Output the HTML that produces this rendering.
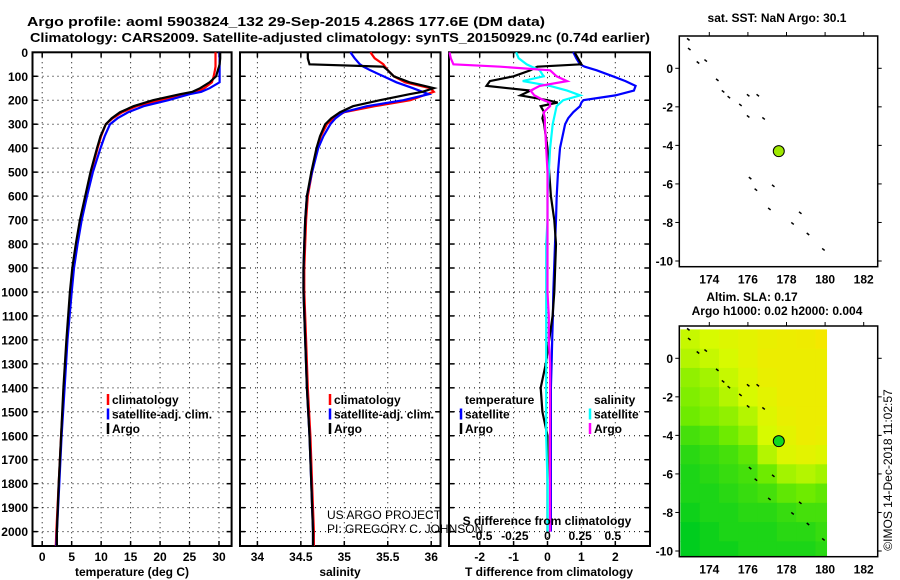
<!DOCTYPE html>
<html><head><meta charset="utf-8"><style>
html,body{margin:0;padding:0;background:#fff}
svg{display:block;font-family:"Liberation Sans",sans-serif}
.b{font-weight:bold;font-size:13px}
.t{font-weight:bold;font-size:12px}
</style></head><body>
<svg id="c" width="900" height="580" viewBox="0 0 900 580">
<text x="286" y="26" text-anchor="middle" class="b" font-size="14" textLength="518" lengthAdjust="spacingAndGlyphs">Argo profile: aoml 5903824_132 29-Sep-2015 4.286S 177.6E (DM data)</text>
<text x="340" y="42" text-anchor="middle" class="b" font-size="14" textLength="620" lengthAdjust="spacingAndGlyphs">Climatology: CARS2009. Satellite-adjusted climatology: synTS_20150929.nc (0.74d earlier)</text>
<g id="g"></g>
</svg>
<script>
// ---- data ----
const depths = [0,25,50,60,75,100,125,150,165,175,200,225,250,275,300,350,400,500,600,700,800,900,1000,1200,1400,1600,1800,2000,2060];
const climT = [29.4,29.4,29.4,29.4,29.3,29.1,28.8,27.5,26.2,24.5,20,16,13.6,12,10.8,10,9.4,8.3,7.4,6.5,5.8,5.2,4.8,4.2,3.7,3.2,2.8,2.4,2.3];
const satT = [30.1,30.1,30.1,30.1,30.1,30.1,30.1,28.4,27,25,21.4,17.2,14.6,12.8,11.5,10.6,9.9,8.6,7.6,6.7,6.0,5.4,5.0,4.3,3.8,3.3,2.9,2.5,2.4];
const argoT = [30.2,30.2,30.1,30,29.8,29.5,28.4,26.8,25.5,23.4,18.8,15.5,13.2,11.8,10.8,9.9,9.3,8.2,7.3,6.4,5.7,5.1,4.7,4.1,3.6,3.2,2.8,2.5,2.5];
const climS = [35.3,35.35,35.45,35.47,35.5,35.57,35.7,35.99,36.03,35.95,35.76,35.35,35.0,34.88,34.8,34.73,34.69,34.63,34.58,34.56,34.55,34.54,34.54,34.56,34.58,34.61,34.63,34.65,34.65];
const satS = [35.07,35.12,35.18,35.22,35.3,35.45,35.6,35.79,35.9,35.97,35.68,35.26,34.99,34.9,34.84,34.76,34.7,34.63,34.57,34.55,34.54,34.53,34.53,34.55,34.57,34.6,34.62,34.64,34.64];
const argoS = [34.58,34.58,34.6,35.45,35.5,35.57,35.75,36.03,35.9,35.75,35.41,35.1,34.95,34.85,34.78,34.72,34.68,34.62,34.57,34.55,34.54,34.53,34.53,34.55,34.57,34.6,34.62,34.64,34.64];
const diffDepths = [0,25,50,60,75,100,120,140,160,180,200,210,225,250,275,300,400,500,600,700,800,1000,1100,1200,1300,1400,1500,1600,1800,2000];
const satTdiff = [0.76,0.85,0.96,1.1,1.45,1.93,2.3,2.6,2.55,2.0,1.06,1.0,0.96,0.76,0.61,0.52,0.37,0.31,0.27,0.25,0.22,0.17,0.16,0.14,0.12,0.1,0.1,0.1,0.1,0.1];
const argoTdiff = [0.8,0.9,1.0,-0.3,-0.5,-1.0,-1.7,-1.8,-0.5,-0.8,0.0,0.3,-0.2,-0.1,-0.15,-0.1,0.0,0.05,0.1,0.2,0.25,0.2,0.15,0.05,-0.05,-0.2,-0.15,0.0,0.0,0.0];
const satSdiff = [-0.24,-0.22,-0.16,-0.12,-0.06,-0.03,-0.19,0.02,0.15,0.25,0.12,0.1,0.07,0.06,0.05,0.04,0.02,0.01,0,0,-0.01,-0.01,-0.01,-0.01,-0.01,-0.01,-0.01,-0.01,0,0];
const argoSdiff = [-0.75,-0.74,-0.72,-0.36,0.02,0.07,0.15,-0.06,-0.13,-0.1,-0.03,0.02,0.02,-0.03,-0.02,-0.02,-0.01,0,0,0,0,0,0.01,0.01,0.02,0.02,0.02,0.02,0.02,0.02];
const depthTicks = [0,100,200,300,400,500,600,700,800,900,1000,1100,1200,1300,1400,1500,1600,1700,1800,1900,2000];
const tempTicks = [0,5,10,15,20,25,30];
const salTicks = [34,34.5,35,35.5,36];
const salTickLabels = ["34","34.5","35","35.5","36"];
const tdTicks = [-2,-1,0,1,2];
const sdTicks = [-0.5,-0.25,0,0.25,0.5];
const sdTickLabels = ["-0.5","-0.25","0","0.25","0.5"];
const argoLon = 177.6, argoLat = -4.3;
const lonTicks = [174,176,178,180,182];
const latTicks = [0,-2,-4,-6,-8,-10];
const islandLon = [172.9,172.95,173.4,173.8,174.4,174.7,175.0,176.0,176.5,175.6,176.0,176.8,176.1,176.4,177.3,177.1,178.7,178.3,179.1,179.9];
const islandLat = [1.5,1.0,0.3,0.4,-0.6,-1.2,-1.5,-1.4,-1.4,-1.9,-2.5,-2.6,-5.7,-6.3,-6.1,-7.3,-7.5,-8.05,-8.6,-9.4];
const slaLonCenters = [173,174,175,176,177,178,179,180];
const slaLatCenters = [1,0,-1,-2,-3,-4,-5,-6,-7,-8,-9,-10];
const slaGrid = [
[0.65,0.7,0.75,0.8,0.85,0.88,0.9,0.95],
[0.6,0.65,0.7,0.8,0.88,0.88,0.88,0.88],
[0.5,0.55,0.65,0.75,0.85,0.88,0.88,0.88],
[0.45,0.5,0.6,0.7,0.8,0.88,0.88,0.88],
[0.4,0.45,0.5,0.6,0.75,0.85,0.88,0.88],
[0.25,0.3,0.4,0.5,0.7,0.8,0.88,0.85],
[0.15,0.2,0.25,0.35,0.6,0.75,0.8,0.75],
[0.1,0.15,0.2,0.25,0.4,0.55,0.6,0.55],
[0.1,0.1,0.15,0.2,0.25,0.35,0.4,0.35],
[0.05,0.1,0.1,0.15,0.15,0.2,0.25,0.25],
[0.0,0.05,0.1,0.1,0.1,0.15,0.15,0.2],
[0.0,0.05,0.05,0.1,0.1,0.1,0.1,0.15]];

const NS="http://www.w3.org/2000/svg";
const G=document.getElementById('g');
function el(tag,attrs,parent,txt){const e=document.createElementNS(NS,tag);for(const k in attrs)e.setAttribute(k,attrs[k]);if(txt!==undefined)e.textContent=txt;(parent||G).appendChild(e);return e;}

// ---- profile panels ----
const TOP=52.3, BOT=546, DMAX=2060;
const yD=d=>TOP+d*(BOT-TOP)/DMAX;
function lin(d0,r0,d1,r1){return v=>r0+(v-d0)*(r1-r0)/(d1-d0);}
const panels=[
 {name:'temperature-panel',x0:32.5,x1:231.6,sx:lin(0,42.2,30,219),ticks:tempTicks,labels:tempTicks.map(String),title:'temperature (deg C)',tx:132},
 {name:'salinity-panel',x0:240,x1:440.5,sx:lin(34,257.4,36,431.2),ticks:salTicks,labels:salTickLabels,title:'salinity',tx:340},
 {name:'difference-panel',x0:449,x1:650,sx:lin(0,547.5,1,581.4),ticks:tdTicks,labels:tdTicks.map(String),title:'T difference from climatology',tx:549}
];
panels.forEach((p,i)=>{
 const g=el('g',{});
 
 
 depthTicks.forEach(d=>{
  const y=yD(d);
  const gl=el('line',{x1:p.x0,x2:p.x1,y1:y,y2:y,stroke:'#000','stroke-width':1,'stroke-dasharray':'1,4'},g);
  
  
  el('line',{x1:p.x0,x2:p.x0+5,y1:y,y2:y,stroke:'#000','stroke-width':1.5},g);
  el('line',{x1:p.x1-5,x2:p.x1,y1:y,y2:y,stroke:'#000','stroke-width':1.5},g);
  if(i===0){const t=el('text',{x:28,y:y+4.5,'text-anchor':'end',class:'t'},g,String(d));
   
   }
 });
 p.ticks.forEach((v,k)=>{
  const x=p.sx(v);
  const gl=el('line',{x1:x,x2:x,y1:TOP,y2:BOT,stroke:'#000','stroke-width':1,'stroke-dasharray':'1,4'},g);
  
  
  el('line',{x1:x,x2:x,y1:BOT-5,y2:BOT,stroke:'#000','stroke-width':1.5},g);
  el('line',{x1:x,x2:x,y1:TOP,y2:TOP+5,stroke:'#000','stroke-width':1.5},g);
  const t=el('text',{x:x,y:561,'text-anchor':'middle',class:'t'},g,p.labels[k]);
  
  
 });
 const fr=el('rect',{x:p.x0,y:TOP,width:p.x1-p.x0,height:BOT-TOP,fill:'none',stroke:'#000','stroke-width':2},g);
 
 
 const at=el('text',{x:p.tx,y:576,'text-anchor':'middle',class:'t'},g,p.title);
 
 
});
function series(name,vals,ds,sx,color){
 const pts=vals.map((v,k)=>sx(v).toFixed(1)+','+yD(ds[k]).toFixed(1)).join(' ');
 const pl=el('polyline',{points:pts,fill:'none',stroke:color,'stroke-width':2.2,'stroke-linejoin':'miter'});
 
 
}
series('climatology-temperature-line',climT,depths,panels[0].sx,'#f00');
series('satellite-temperature-line',satT,depths,panels[0].sx,'#00f');
series('argo-temperature-line',argoT,depths,panels[0].sx,'#000');
series('climatology-salinity-line',climS,depths,panels[1].sx,'#f00');
series('satellite-salinity-line',satS,depths,panels[1].sx,'#00f');
series('argo-salinity-line',argoS,depths,panels[1].sx,'#000');
const sS=lin(0,547.5,1,678.2);
series('satellite-t-diff-line',satTdiff,diffDepths,panels[2].sx,'#00f');
series('argo-t-diff-line',argoTdiff,diffDepths,panels[2].sx,'#000');
series('satellite-s-diff-line',satSdiff,diffDepths,sS,'#0ff');
series('argo-s-diff-line',argoSdiff,diffDepths,sS,'#f0f');
sdTicks.forEach((v,k)=>{const t=el('text',{x:sS(v),y:540,'text-anchor':'middle',class:'t'},G,sdTickLabels[k]);
 
 });
{const t=el('text',{x:547,y:525,'text-anchor':'middle',class:'t'},G,'S difference from climatology');
 
 }

function legend(name,x,y,items){
 const g=el('g',{});
 
 
 items.forEach((it,k)=>{
  const yy=y+k*14.5;
  if(it[1]) el('line',{x1:x,x2:x,y1:yy-10,y2:yy+1,stroke:it[1],'stroke-width':2.5},g);
  const t=el('text',{x:x+4,y:yy,class:'t'},g,it[0]);
  
  
 });
}
legend('temperature-legend',108,404,[['climatology','#f00'],['satellite-adj. clim.','#00f'],['Argo','#000']]);
legend('salinity-legend',330,404,[['climatology','#f00'],['satellite-adj. clim.','#00f'],['Argo','#000']]);
legend('t-diff-legend',461,404,[['temperature',null],['satellite','#00f'],['Argo','#000']]);
legend('s-diff-legend',590,404,[['salinity',null],['satellite','#0ff'],['Argo','#f0f']]);
{const t=el('text',{x:327,y:519,'font-size':12},G,'US ARGO PROJECT');
 
 const t2=el('text',{x:327,y:533,'font-size':12},G,'PI: GREGORY C. JOHNSON');
 }

// ---- maps ----
const mx=lon=>709.3+(lon-174)*19.3;
function colorOf(v){
 const stops=[[0,[0,205,30]],[0.4,[110,235,0]],[0.7,[215,250,0]],[1,[250,228,0]]];
 for(let i=1;i<stops.length;i++){if(v<=stops[i][0]){const a=stops[i-1],b=stops[i];const f=(v-a[0])/(b[0]-a[0]);
  return 'rgb('+a[1].map((c,j)=>Math.round(c+(b[1][j]-c)*f)).join(',')+')';}}
 return 'rgb(250,228,0)';
}
function map(name,top,title1,title2,heat){
 const lat0=top+32.3;const my=lat=>lat0-lat*19.27;
 const x0=679.3,x1=877.7,y0=top,y1=top+230.7;
 const g=el('g',{});
 
 
 if(heat){
  const cid=name+'-clip';const c=el('clipPath',{id:cid},g);el('rect',{x:x0,y:y0,width:mx(180.1)-x0,height:y1-y0},c);
  const hg=el('g',{'clip-path':'url(#'+cid+')'},g);
  slaLatCenters.forEach((la,r)=>slaLonCenters.forEach((lo,cI)=>{
   const cell=el('rect',{x:mx(lo-0.5),y:my(la+0.5),width:19.8,height:19.8,fill:colorOf(slaGrid[r][cI])},hg);
   
   
  }));
 }
 islandLon.forEach((lo,k)=>{const isl=el('line',{x1:mx(lo)-1,x2:mx(lo)+1.5,y1:my(islandLat[k])-1,y2:my(islandLat[k])+1,stroke:'#000','stroke-width':1.5},g);
  });
 el('rect',{x:x0,y:y0,width:x1-x0,height:y1-y0,fill:'none',stroke:'#000','stroke-width':1.5},g);
 lonTicks.forEach(lo=>{const x=mx(lo);el('line',{x1:x,x2:x,y1:y0-4,y2:y0,stroke:'#000'},g);
  const t=el('text',{x:x,y:y1+17,'text-anchor':'middle',class:'t'},g,String(lo));
  });
 latTicks.forEach(la=>{const y=my(la);el('line',{x1:x0-4,x2:x0,y1:y,y2:y,stroke:'#000'},g);el('line',{x1:x1,x2:x1+4,y1:y,y2:y,stroke:'#000'},g);
  const t=el('text',{x:673,y:y+4.5,'text-anchor':'end',class:'t'},g,String(la));
  });
 const m=el('circle',{cx:mx(argoLon),cy:my(argoLat),r:5.5,fill:heat?'#10d820':'#9ee800',stroke:'#000','stroke-width':1},g);
 
 if(title2){const a=el('text',{x:752,y:top-25,'text-anchor':'middle',class:'t'},g,title1);
  const b=el('text',{x:777,y:top-11,'text-anchor':'middle',class:'t'},g,title2);}
 else{const a=el('text',{x:777,y:top-14,'text-anchor':'middle',class:'t'},g,title1);}
}
map('sst-map',36,'sat. SST: NaN Argo: 30.1',null,false);
map('sla-map',326,'Altim. SLA: 0.17','Argo h1000: 0.02 h2000: 0.004',true);
{const t=el('text',{x:0,y:0,'font-size':12,transform:'translate(892,470) rotate(-90)','text-anchor':'middle'},G,'©IMOS 14-Dec-2018 11:02:57');
 }
</script>
</body></html>
